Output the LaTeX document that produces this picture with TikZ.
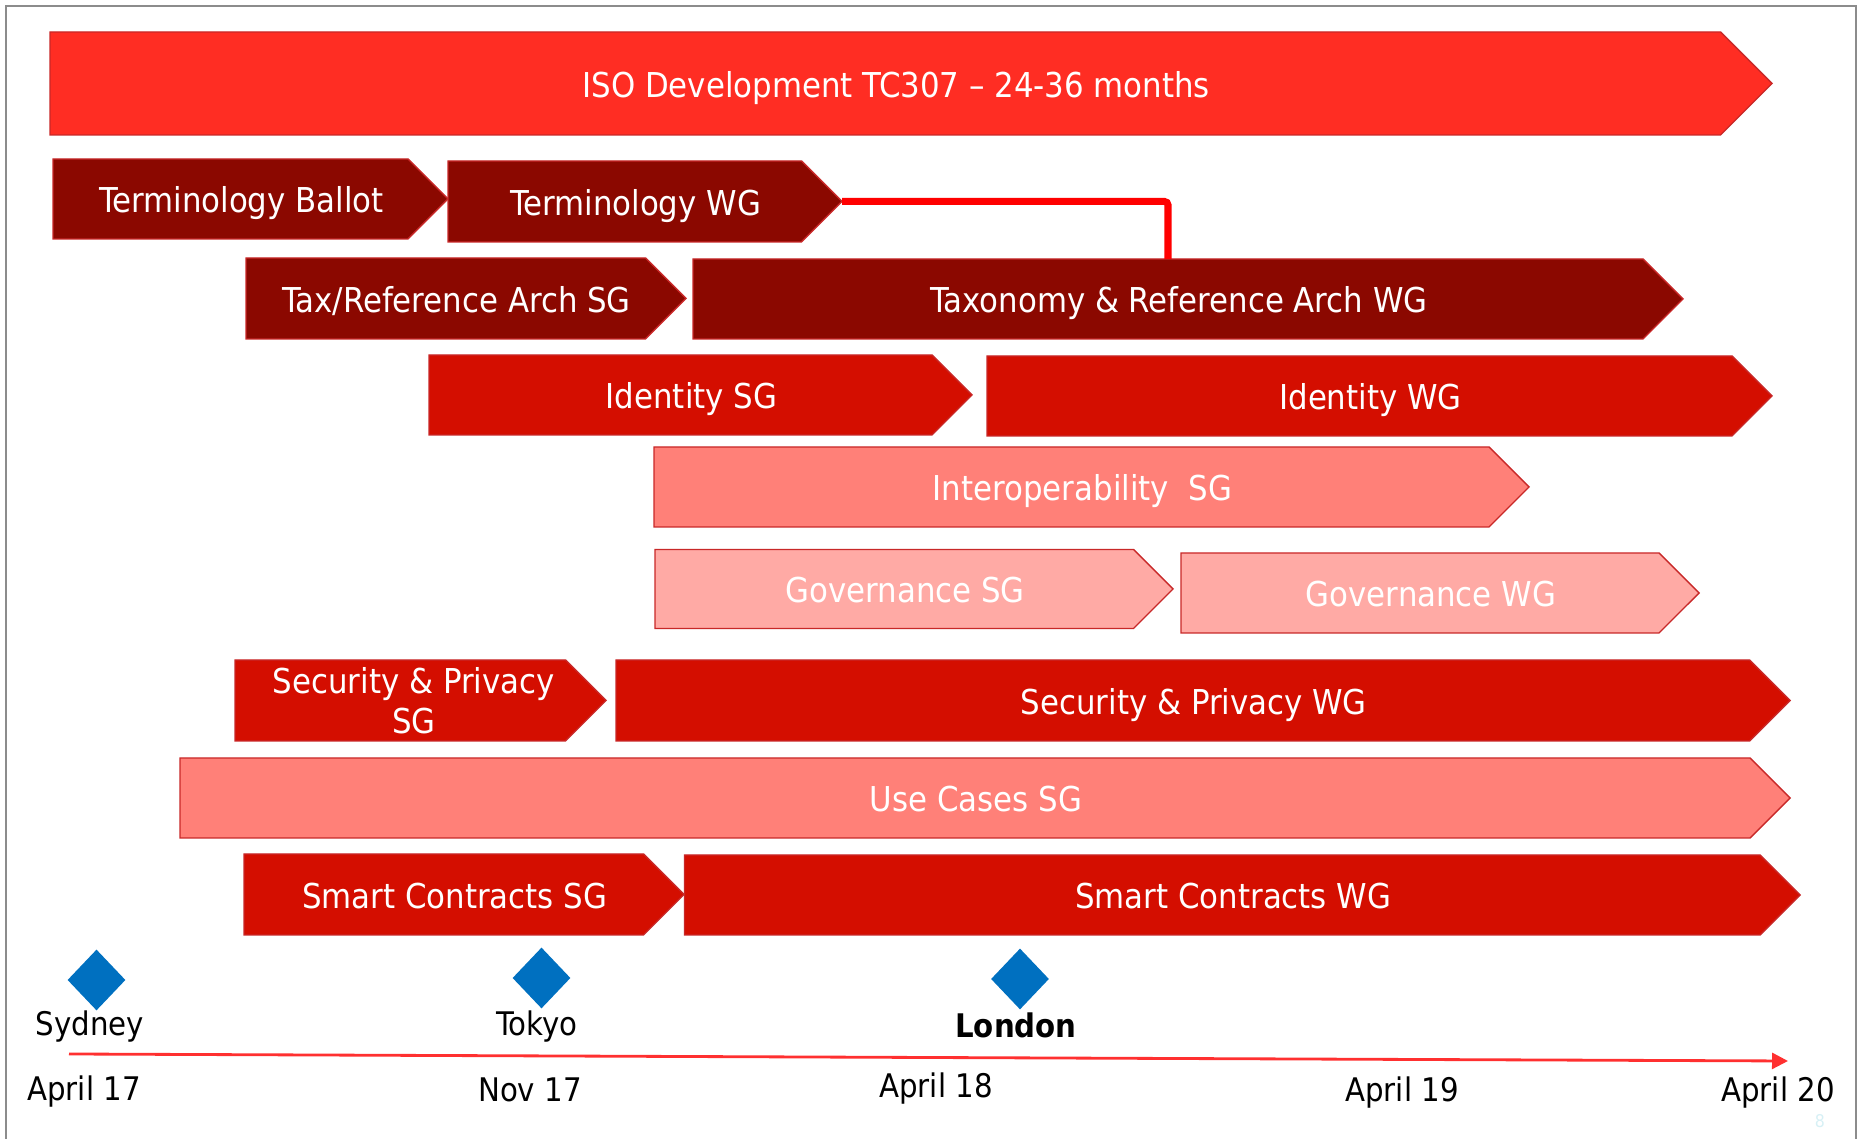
\documentclass[tikz,border=0pt]{standalone}
\usepackage{fontspec}
\setmainfont{DejaVu Sans Condensed}
\usepackage{tikz}
\usetikzlibrary{shapes.symbols,shapes.geometric,arrows.meta}

\definecolor{isored}{RGB}{255,45,35}
\definecolor{darkbar}{RGB}{139,8,0}
\definecolor{midbar}{RGB}{212,14,0}
\definecolor{salmonbar}{RGB}{255,128,120}
\definecolor{pinkbar}{RGB}{255,170,165}
\definecolor{barline}{RGB}{200,40,40}
\definecolor{mapblue}{RGB}{0,112,192}
\definecolor{framegray}{RGB}{140,140,140}

\begin{document}
\begin{tikzpicture}[
    every node/.style={font=\fontsize{18.5}{22}\selectfont},
    bar/.style={signal, signal to=east, anchor=west, draw=barline, line width=0.8pt,
      text=white, inner sep=0pt, outer sep=0pt, font=\fontsize{19.5}{23}\selectfont,
      text height=0.72cm, text depth=0.16cm, execute at begin node={\hspace*{0.44cm}}},
    meet/.style={diamond, fill=mapblue, inner sep=0pt, minimum width=1.16cm, minimum height=1.22cm},
    link/.style={red, line width=4pt, rounded corners=2pt},
    timeline/.style={draw={rgb,255:red,255;green,48;blue,48}, line width=1.6pt, -{Triangle[length=0.32cm,width=0.32cm]}}
  ]
      \useasboundingbox (0,0) rectangle (37.2,22.78);
      \draw[framegray, line width=1.2pt] (0.12,0) -- (0.12,22.66) -- (37.12,22.66) -- (37.12,0);

      % bars
      \node[bar, fill=isored, minimum width=34.44cm, minimum height=2.06cm] (iso) at (1.0,21.11) {ISO Development TC307 -- 24-36 months};
      \node[bar, fill=darkbar, minimum width=7.9cm, minimum height=1.6cm] (termballot) at (1.06,18.8) {Terminology Ballot};
      \node[bar, fill=darkbar, minimum width=7.88cm, minimum height=1.62cm] (termwg) at (8.96,18.75) {Terminology WG};
      \node[bar, fill=darkbar, minimum width=8.8cm, minimum height=1.62cm] (taxsg) at (4.92,16.81) {Tax/Reference Arch SG};
      \node[bar, fill=darkbar, minimum width=19.8cm, minimum height=1.6cm] (taxwg) at (13.86,16.8) {Taxonomy \& Reference Arch WG};
      \node[bar, fill=midbar, minimum width=10.86cm, minimum height=1.6cm] (idsg) at (8.58,14.88) {Identity SG};
      \node[bar, fill=midbar, minimum width=15.7cm, minimum height=1.6cm] (idwg) at (19.74,14.86) {Identity WG};
      \node[bar, fill=salmonbar, minimum width=17.5cm, minimum height=1.6cm] (interop) at (13.08,13.04) {Interoperability\ \ SG};
      \node[bar, fill=pinkbar, minimum width=10.36cm, minimum height=1.58cm] (govsg) at (13.1,11.0) {Governance SG};
      \node[bar, fill=pinkbar, minimum width=10.36cm, minimum height=1.6cm] (govwg) at (23.62,10.92) {Governance WG};
      \node[bar, fill=midbar, minimum width=7.42cm, minimum height=1.62cm, align=center,
        text height={}, text depth={}, execute at begin node={}] (secsg) at (4.7,8.77) {\hspace*{0.1cm}Security \& Privacy\\\hspace*{0.1cm}SG};
      \node[bar, fill=midbar, minimum width=23.48cm, minimum height=1.62cm] (secwg) at (12.32,8.77) {Security \& Privacy WG};
      \node[bar, fill=salmonbar, minimum width=32.2cm, minimum height=1.6cm] (usecases) at (3.6,6.82) {Use Cases SG};
      \node[bar, fill=midbar, minimum width=8.8cm, minimum height=1.62cm] (smartsg) at (4.88,4.89) {Smart Contracts SG};
      \node[bar, fill=midbar, minimum width=22.31cm, minimum height=1.6cm] (smartwg) at (13.69,4.88) {Smart Contracts WG};

      \draw[link] (termwg.east) -| (taxwg.north);

      % meetings
      \node[meet] (sydney) at (1.93,3.18) {};
      \node[meet] (tokyo) at (10.83,3.22) {};
      \node[meet] (london) at (20.4,3.2) {};
      \node (sydneylbl) at (1.8,2.24) {Sydney};
      \node (tokyolbl) at (10.74,2.24) {Tokyo};
      \node[font=\fontsize{18.5}{22}\selectfont\bfseries] (londonlbl) at (20.32,2.28) {London};

      % time axis
      \coordinate (tstart) at (1.38,1.7);
      \coordinate (tend) at (35.76,1.56);
      \draw[timeline] (tstart) -- (tend);
      \node (apr17) at (1.68,0.94) {April 17};
      \node (nov17) at (10.6,0.98) {Nov 17};
      \node (apr18) at (18.72,1.0) {April 18};
      \node (apr19) at (28.04,0.92) {April 19};
      \node (apr20) at (35.56,0.92) {April 20};
      \node[font=\fontsize{10}{12}\selectfont, text={rgb,255:red,215;green,240;blue,245}] (slideno) at (36.4,0.36) {8};
\end{tikzpicture}
\end{document}
